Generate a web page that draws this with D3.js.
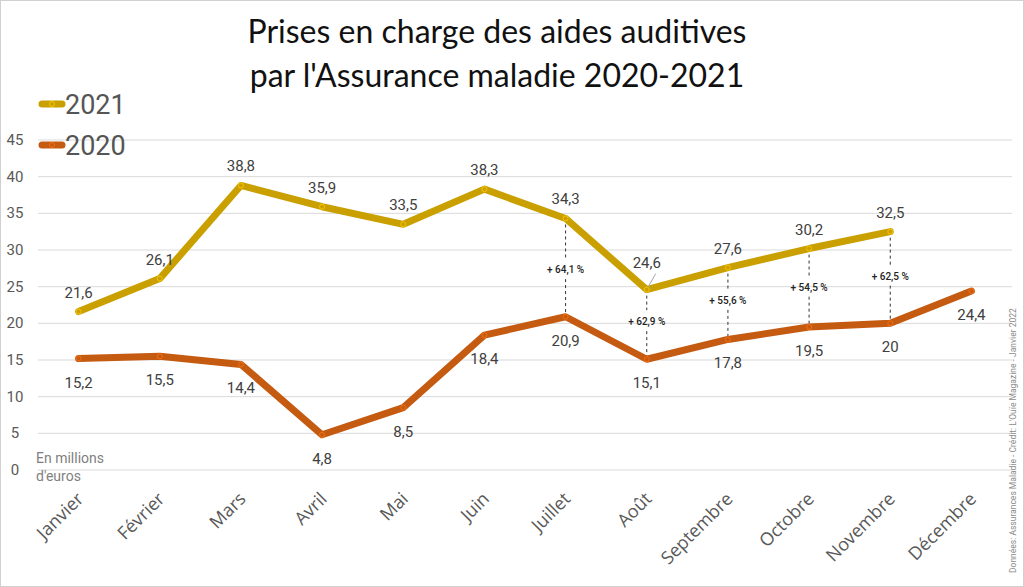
<!DOCTYPE html>
<html><head><meta charset="utf-8">
<script src="https://cdn.jsdelivr.net/npm/d3@7"></script>
<style>body{margin:0;background:#fff}svg{display:block}</style>
</head><body>
<svg id="c" width="1024" height="587"></svg>
<script>
const months = ["Janvier","Février","Mars","Avril","Mai","Juin","Juillet","Août","Septembre","Octobre","Novembre","Décembre"];
const v2021 = [21.6,26.1,38.8,35.9,33.5,38.3,34.3,24.6,27.6,30.2,32.5,null];
const v2020 = [15.2,15.5,14.4,4.8,8.5,18.4,20.9,15.1,17.8,19.5,20,24.4];
const yTicks = [0,5,10,15,20,25,30,35,40,45];
const pctMonths = ["Juillet","Août","Septembre","Octobre","Novembre"];
const pctLabels = ["+ 64,1 %","+ 62,9 %","+ 55,6 %","+ 54,5 %","+ 62,5 %"];
const pctY = [27.4,20.3,23.2,25.0,26.5];

const svg = d3.select("#c");
const W=1024,H=587;
svg.append("rect").attr("x",0.5).attr("y",0.5).attr("width",W-1).attr("height",H-1).attr("fill","#fff").attr("stroke","#d0d0d0");

const x = d3.scaleBand().domain(months).range([38,1012]);
const y = d3.scaleLinear().domain([0,45]).range([470,140]);
const cx = m => x(m)+x.bandwidth()/2;

// grid
svg.append("g").selectAll("line").data(yTicks).join("line")
 .attr("x1",38).attr("x2",1012).attr("y1",d=>y(d)).attr("y2",d=>y(d))
 .attr("stroke","#d9d9d9").attr("stroke-width",1);

// y labels
svg.append("g").selectAll("text").data(yTicks).join("text")
 .attr("x",15).attr("y",d=>y(d)+5).attr("text-anchor","middle")
 .attr("font-family","Roboto, sans-serif").attr("font-size",15).attr("fill","#595959").text(d=>d);

// title
const title = svg.append("text").attr("text-anchor","middle")
 .attr("font-family","Lato, 'Open Sans', sans-serif").attr("font-size",32).attr("fill","#111");
title.append("tspan").attr("x",497).attr("y",43).text("Prises en charge des aides auditives");
title.append("tspan").attr("x",497).attr("y",87).text("par l'Assurance maladie 2020-2021");

// dashed connectors
const dash = svg.append("g");
pctMonths.forEach((m,i)=>{
  const idx = months.indexOf(m);
  const xx = cx(m);
  const top = y(v2021[idx]), bot = y(v2020[idx]);
  const ly = y(pctY[i]);
  dash.append("line").attr("x1",xx).attr("x2",xx).attr("y1",top).attr("y2",ly-11)
    .attr("stroke","#333").attr("stroke-dasharray","3,3").attr("stroke-width",1);
  dash.append("line").attr("x1",xx).attr("x2",xx).attr("y1",ly+10).attr("y2",bot)
    .attr("stroke","#333").attr("stroke-dasharray","3,3").attr("stroke-width",1);
  dash.append("text").attr("x",xx).attr("y",ly+4).attr("text-anchor","middle")
    .attr("font-family","Roboto, sans-serif").attr("font-size",10).attr("font-weight","500").attr("fill","#222").text(pctLabels[i]);
});

const line = d3.line().defined(d=>d.v!=null).x(d=>cx(d.m)).y(d=>y(d.v));
const s2020 = months.map((m,i)=>({m,v:v2020[i]}));
const s2021 = months.map((m,i)=>({m,v:v2021[i]}));
const c2020="#c55a11", c2021="#c9a000";

function series(data,color){
  svg.append("path").datum(data).attr("d",line).attr("fill","none").attr("stroke",color)
   .attr("stroke-width",7).attr("stroke-linejoin","round").attr("stroke-linecap","round");
  svg.append("g").selectAll("circle").data(data.filter(d=>d.v!=null)).join("circle")
   .attr("cx",d=>cx(d.m)).attr("cy",d=>y(d.v)).attr("r",2.5).attr("fill",color).attr("stroke",d3.color(color).brighter(0.6)).attr("stroke-width",1);
}
series(s2020,c2020);
series(s2021,c2021);

// data labels
const fmt = v => String(v).replace(".",",");
const lab = svg.append("g").attr("font-family","Roboto, sans-serif").attr("font-size",15).attr("fill","#404040").attr("text-anchor","middle");
s2021.filter(d=>d.v!=null).forEach(d=>{
  let dy = -14;
  if(d.m==="Août"){ dy=-22; }
  lab.append("text").attr("x",cx(d.m)).attr("y",y(d.v)+dy).text(fmt(d.v));
});
// leader line for Août
svg.append("line").attr("x1",cx("Août")+1).attr("y1",y(24.6)-2).attr("x2",cx("Août")+9).attr("y2",y(24.6)-16).attr("stroke","#a6a6a6").attr("stroke-width",1);
s2020.forEach(d=>{
  lab.append("text").attr("x",cx(d.m)).attr("y",y(d.v)+29).text(fmt(d.v));
});

// x labels
svg.append("g").selectAll("text").data(months).join("text")
 .attr("transform",m=>`translate(${cx(m)+6},${500}) rotate(-45)`)
 .attr("text-anchor","end").attr("font-family","'Open Sans', sans-serif").attr("font-size",18).attr("fill","#595959").text(m=>m);

// unit
const u = svg.append("text").attr("font-family","Roboto, sans-serif").attr("font-size",14).attr("fill","#7f7f7f");
u.append("tspan").attr("x",36).attr("y",463).text("En millions");
u.append("tspan").attr("x",36).attr("y",481).text("d'euros");

// legend
const leg = [{k:"2021",c:c2021,y:104},{k:"2020",c:c2020,y:145}];
leg.forEach(l=>{
  svg.append("line").attr("x1",42).attr("x2",62).attr("y1",l.y).attr("y2",l.y).attr("stroke",l.c).attr("stroke-width",7).attr("stroke-linecap","round");
  svg.append("circle").attr("cx",52).attr("cy",l.y).attr("r",2.5).attr("fill",l.c).attr("stroke",d3.color(l.c).brighter(0.6));
  svg.append("text").attr("x",65).attr("y",l.y+10).attr("font-family","Roboto, sans-serif").attr("font-size",27).attr("fill","#555").text(l.k);
});

// credit
svg.append("text").attr("transform","translate(1016,573) rotate(-90)")
 .attr("font-family","Roboto, sans-serif").attr("font-size",8.5).attr("fill","#8a8a8a")
 .text("Données: Assurances Maladie - Crédit: L'Ouïe Magazine - Janvier 2022");
</script>
</body></html>
